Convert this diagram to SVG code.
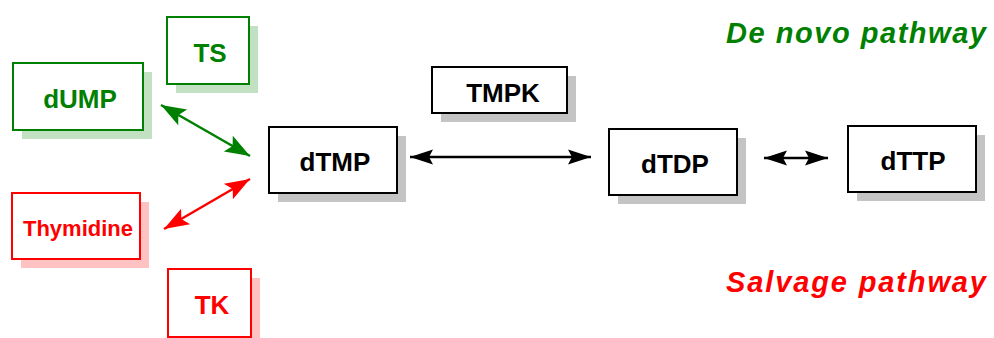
<svg xmlns="http://www.w3.org/2000/svg" width="994" height="338" viewBox="0 0 994 338">
<style>
  .box{fill:#fff;stroke-width:2}
  .g .box{stroke:#008000}
  .r .box{stroke:#ff0000}
  .k .box{stroke:#000}
  .g .sh{fill:#c2e0c2}
  .r .sh{fill:#ffc2c2}
  .k .sh{fill:#c4c4c4}
  .lbl{font-family:"Liberation Sans",Arial,sans-serif;font-weight:bold;font-size:26px;text-anchor:middle}
  .g .lbl{fill:#008000}
  .r .lbl{fill:#ff0000}
  .k .lbl{fill:#000}
  .title{font-family:"Liberation Sans",Arial,sans-serif;font-weight:bold;font-style:italic;font-size:29px}
  .conn line{stroke-width:2.5;fill:none}
</style>
<defs>
  <marker id="ak" markerUnits="userSpaceOnUse" markerWidth="30" markerHeight="20" viewBox="-26 -10 30 20" refX="0" refY="0" orient="auto-start-reverse">
    <path d="M0,0 L-23,-7.5 L-19,0 L-23,7.5 Z" fill="#000"/>
  </marker>
  <marker id="ag" markerUnits="userSpaceOnUse" markerWidth="30" markerHeight="22" viewBox="-26 -11 30 22" refX="0" refY="0" orient="auto-start-reverse">
    <path d="M0,0 L-25,-9 L-20,0 L-25,9 Z" fill="#008000"/>
  </marker>
  <marker id="ar" markerUnits="userSpaceOnUse" markerWidth="30" markerHeight="22" viewBox="-26 -11 30 22" refX="0" refY="0" orient="auto-start-reverse">
    <path d="M0,0 L-25,-9 L-20,0 L-25,9 Z" fill="#ff0000"/>
  </marker>
</defs>
<rect width="994" height="338" fill="#fff"/>

<g id="TS" class="g">
  <rect class="sh" x="176" y="26" width="82" height="67"/>
  <rect class="box" x="167" y="17" width="82" height="67"/>
  <text class="lbl" x="210" y="62">TS</text>
</g>
<g id="dUMP" class="g">
  <rect class="sh" x="22" y="72" width="130" height="67"/>
  <rect class="box" x="13" y="63" width="130" height="67"/>
  <text class="lbl" x="80" y="108">dUMP</text>
</g>
<g id="Thymidine" class="r">
  <rect class="sh" x="21" y="202" width="128" height="66"/>
  <rect class="box" x="12" y="193" width="128" height="66"/>
  <text class="lbl" x="78" y="236" style="font-size:22px">Thymidine</text>
</g>
<g id="TK" class="r">
  <rect class="sh" x="177" y="278" width="83" height="68"/>
  <rect class="box" x="168" y="269" width="83" height="68"/>
  <text class="lbl" x="212" y="314">TK</text>
</g>
<g id="dTMP" class="k">
  <rect class="sh" x="278" y="136" width="128" height="66"/>
  <rect class="box" x="269" y="127" width="128" height="66"/>
  <text class="lbl" x="335" y="171">dTMP</text>
</g>
<g id="TMPK" class="k">
  <rect class="sh" x="441" y="76" width="135" height="46"/>
  <rect class="box" x="432" y="67" width="135" height="46"/>
  <text class="lbl" x="503" y="102">TMPK</text>
</g>
<g id="dTDP" class="k">
  <rect class="sh" x="618" y="138" width="128" height="66"/>
  <rect class="box" x="609" y="129" width="128" height="66"/>
  <text class="lbl" x="675" y="173">dTDP</text>
</g>
<g id="dTTP" class="k">
  <rect class="sh" x="857" y="135" width="128" height="66"/>
  <rect class="box" x="848" y="126" width="128" height="66"/>
  <text class="lbl" x="913" y="170">dTTP</text>
</g>

<g id="connectors" class="conn">
  <line x1="161" y1="105" x2="250" y2="156" stroke="#008000" marker-start="url(#ag)" marker-end="url(#ag)"/>
  <line x1="164" y1="229" x2="250" y2="179" stroke="#ff0000" marker-start="url(#ar)" marker-end="url(#ar)"/>
  <line x1="410" y1="157" x2="591" y2="157" stroke="#000" stroke-width="3" marker-start="url(#ak)" marker-end="url(#ak)"/>
  <line x1="764" y1="158" x2="828" y2="158" stroke="#000" stroke-width="3" marker-start="url(#ak)" marker-end="url(#ak)"/>
</g>

<text class="title" x="726" y="43" fill="#008000" textLength="260" lengthAdjust="spacing">De novo pathway</text>
<text class="title" x="726" y="292" fill="#ff0000" textLength="260" lengthAdjust="spacing">Salvage pathway</text>
</svg>
